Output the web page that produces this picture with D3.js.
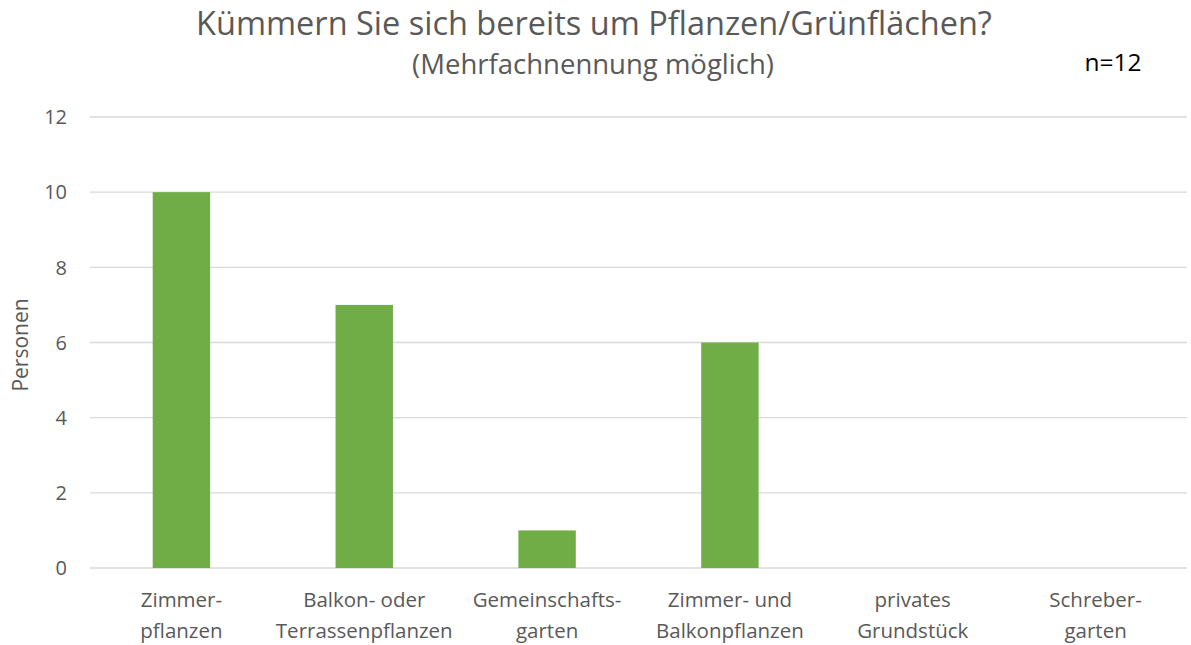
<!DOCTYPE html>
<html>
<head>
<meta charset="utf-8">
<script src="https://cdn.jsdelivr.net/npm/d3@7"></script>
<style>
  body { margin: 0; background: #fff; }
  svg text { font-family: "Open Sans", "Noto Sans", sans-serif; fill: #595959; }
</style>
</head>
<body>
<svg id="chart" width="1191" height="645"></svg>
<script>
'use strict';

// data
var categories = [
  ["Zimmer-", "pflanzen"],
  ["Balkon- oder", "Terrassenpflanzen"],
  ["Gemeinschafts-", "garten"],
  ["Zimmer- und", "Balkonpflanzen"],
  ["privates", "Grundstück"],
  ["Schreber-", "garten"]
];
var personen = [10, 7, 1, 6, 0, 0];
var yTicks = [0, 2, 4, 6, 8, 10, 12];

var title = "Kümmern Sie sich bereits um Pflanzen/Grünflächen?";
var subtitle = "(Mehrfachnennung möglich)";
var nLabel = "n=12";

var svg = d3.select("#chart");
var plot = { left: 90, right: 1187, top: 117, bottom: 568 };

var x = d3.scaleBand()
  .domain(d3.range(categories.length))
  .range([plot.left, plot.right]);
var y = d3.scaleLinear().domain([0, 12]).range([plot.bottom, plot.top]);

var barW = x.bandwidth() * 0.314;

// gridlines
svg.append("g").selectAll("line")
  .data(yTicks)
  .enter().append("line")
  .attr("x1", plot.left).attr("x2", plot.right)
  .attr("y1", function(d) { return y(d); })
  .attr("y2", function(d) { return y(d); })
  .attr("stroke", "#d9d9d9")
  .attr("stroke-width", 1.4);

// y tick labels
svg.append("g").selectAll("text")
  .data(yTicks)
  .enter().append("text")
  .attr("x", 67)
  .attr("y", function(d) { return y(d); })
  .attr("dy", "0.36em")
  .attr("text-anchor", "end")
  .style("font-size", "20px")
  .text(function(d) { return d; });

// bars
svg.append("g").selectAll("rect")
  .data(personen)
  .enter().append("rect")
  .attr("x", function(d, i) { return x(i) + (x.bandwidth() - barW) / 2; })
  .attr("width", barW)
  .attr("y", function(d) { return y(d); })
  .attr("height", function(d) { return y(0) - y(d); })
  .attr("fill", "#70ad47");

// category labels (two lines)
var cat = svg.append("g").selectAll("text")
  .data(categories)
  .enter().append("text")
  .attr("text-anchor", "middle")
  .style("font-size", "20.5px");
cat.each(function(lines, i) {
  var t = d3.select(this);
  lines.forEach(function(l, k) {
    t.append("tspan")
      .attr("x", x(i) + x.bandwidth() / 2)
      .attr("y", 607 + k * 31)
      .text(l);
  });
});

// y axis title
svg.append("text")
  .attr("transform", "translate(28,345) rotate(-90)")
  .attr("text-anchor", "middle")
  .style("font-size", "21px")
  .text("Personen");

// titles
svg.append("text")
  .attr("x", 594).attr("y", 35)
  .attr("text-anchor", "middle")
  .style("font-size", "32.5px")
  .text(title);
svg.append("text")
  .attr("x", 593).attr("y", 74)
  .attr("text-anchor", "middle")
  .style("font-size", "27.5px")
  .text(subtitle);
svg.append("text")
  .attr("x", 1113).attr("y", 71)
  .attr("text-anchor", "middle")
  .style("font-size", "24.5px")
  .style("fill", "#000")
  .text(nLabel);
</script>
</body>
</html>
